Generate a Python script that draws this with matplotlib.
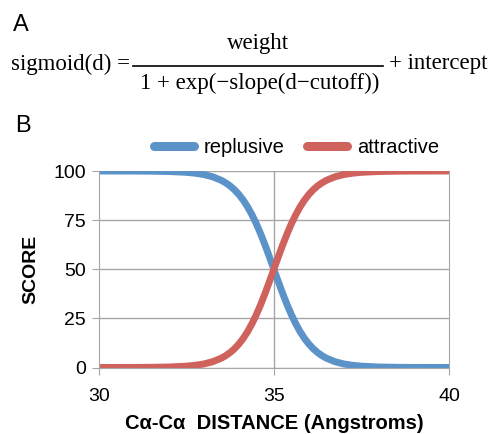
import matplotlib
matplotlib.use("Agg")
import matplotlib.pyplot as plt
from matplotlib.lines import Line2D

# values
distance = [30, 31, 31.5, 32, 32.5, 32.75, 33, 33.25, 33.5, 33.625, 33.75, 33.875,
            34, 34.125, 34.25, 34.375, 34.5, 34.625, 34.75, 34.875, 35,
            35.125, 35.25, 35.375, 35.5, 35.625, 35.75, 35.875, 36, 36.125, 36.25,
            36.375, 36.5, 36.75, 37, 37.25, 37.5, 38, 38.5, 39, 40]
attractive = [0.0, 0.03, 0.09, 0.25, 0.67, 1.10, 1.80, 2.93, 4.74, 6.01, 7.59, 9.53,
              11.92, 14.80, 18.24, 22.27, 26.89, 32.08, 37.75, 43.78, 50,
              56.22, 62.25, 67.92, 73.11, 77.73, 81.76, 85.20, 88.08, 90.47, 92.41,
              93.99, 95.26, 97.07, 98.20, 98.90, 99.33, 99.75, 99.91, 99.97, 100.0]
repulsive = [100.0, 99.97, 99.91, 99.75, 99.33, 98.90, 98.20, 97.07, 95.26, 93.99, 92.41, 90.47,
             88.08, 85.20, 81.76, 77.73, 73.11, 67.92, 62.25, 56.22, 50,
             43.78, 37.75, 32.08, 26.89, 22.27, 18.24, 14.80, 11.92, 9.53, 7.59,
             6.01, 4.74, 2.93, 1.80, 1.10, 0.67, 0.25, 0.09, 0.03, 0.0]
xticks = [30, 35, 40]
yticks = [0, 25, 50, 75, 100]

blue = "#5B93C9"
red = "#CF625D"
grid_c = "#A6A6A6"

plt.rcParams["font.family"] = ["Liberation Sans", "DejaVu Sans"]
W, H = 493, 434
fig = plt.figure(figsize=(W / 100, H / 100), dpi=100)

def fx(px):
    return px / W

def fy(py):
    return 1 - py / H

# panel A: the formula
serif = ["Liberation Serif", "DejaVu Serif"]
fs_eq = 16.5
fig.text(fx(13), fy(25), "A", fontsize=17, va="center", ha="left")
fig.text(fx(11), fy(64), "sigmoid(d) =", family=serif, fontsize=fs_eq, va="center", ha="left")
fig.add_artist(Line2D([fx(133), fx(383)], [fy(65.5), fy(65.5)], color="black", lw=1.2))
fig.text(fx(258), fy(43), "weight", family=serif, fontsize=fs_eq, va="center", ha="center")
fig.text(fx(260), fy(83), "1 + exp(\u2212slope(d\u2212cutoff))", family=serif, fontsize=fs_eq,
         va="center", ha="center")
fig.text(fx(389), fy(64), "+ intercept", family=serif, fontsize=fs_eq, va="center", ha="left")

# panel B
fig.text(fx(15), fy(126), "B", fontsize=17, va="center", ha="left")

ax = fig.add_axes([fx(98.7), fy(367.5), fx(449) - fx(98.7), fy(171) - fy(367.5)])
ax.plot(distance, repulsive, color=blue, lw=5, solid_capstyle="butt",
        solid_joinstyle="round", label="replusive")
ax.plot(distance, attractive, color=red, lw=5, solid_capstyle="butt",
        solid_joinstyle="round", label="attractive")
ax.set_xlim(30, 40)
ax.set_ylim(0, 100)
ax.set_xticks(xticks)
ax.set_yticks(yticks)
ax.yaxis.grid(True, color=grid_c, lw=1)
ax.axvline(35, color=grid_c, lw=1, zorder=0)
ax.set_axisbelow(True)
for s in ["left", "bottom", "right"]:
    ax.spines[s].set_color(grid_c)
ax.spines["top"].set_visible(False)
ax.tick_params(axis="both", colors=grid_c, labelcolor="black", labelsize=14, length=5)
ax.tick_params(axis="x", pad=10)
ax.tick_params(axis="y", pad=4)
ax.set_ylabel("SCORE", fontsize=14, fontweight="bold", labelpad=10)
ax.set_xlabel("C\u03b1-C\u03b1  DISTANCE (Angstroms)", fontsize=14.5, fontweight="bold", labelpad=6)

leg = ax.legend(loc="lower center", bbox_to_anchor=(0.565, 1.01), ncol=2, frameon=False,
                fontsize=14.5, handlelength=2.0, columnspacing=1.1, handletextpad=0.5,
                borderaxespad=0.2)
for h in leg.get_lines():
    h.set_linewidth(6.5)
    h.set_solid_capstyle("round")

fig.savefig("out.png", dpi=100)
